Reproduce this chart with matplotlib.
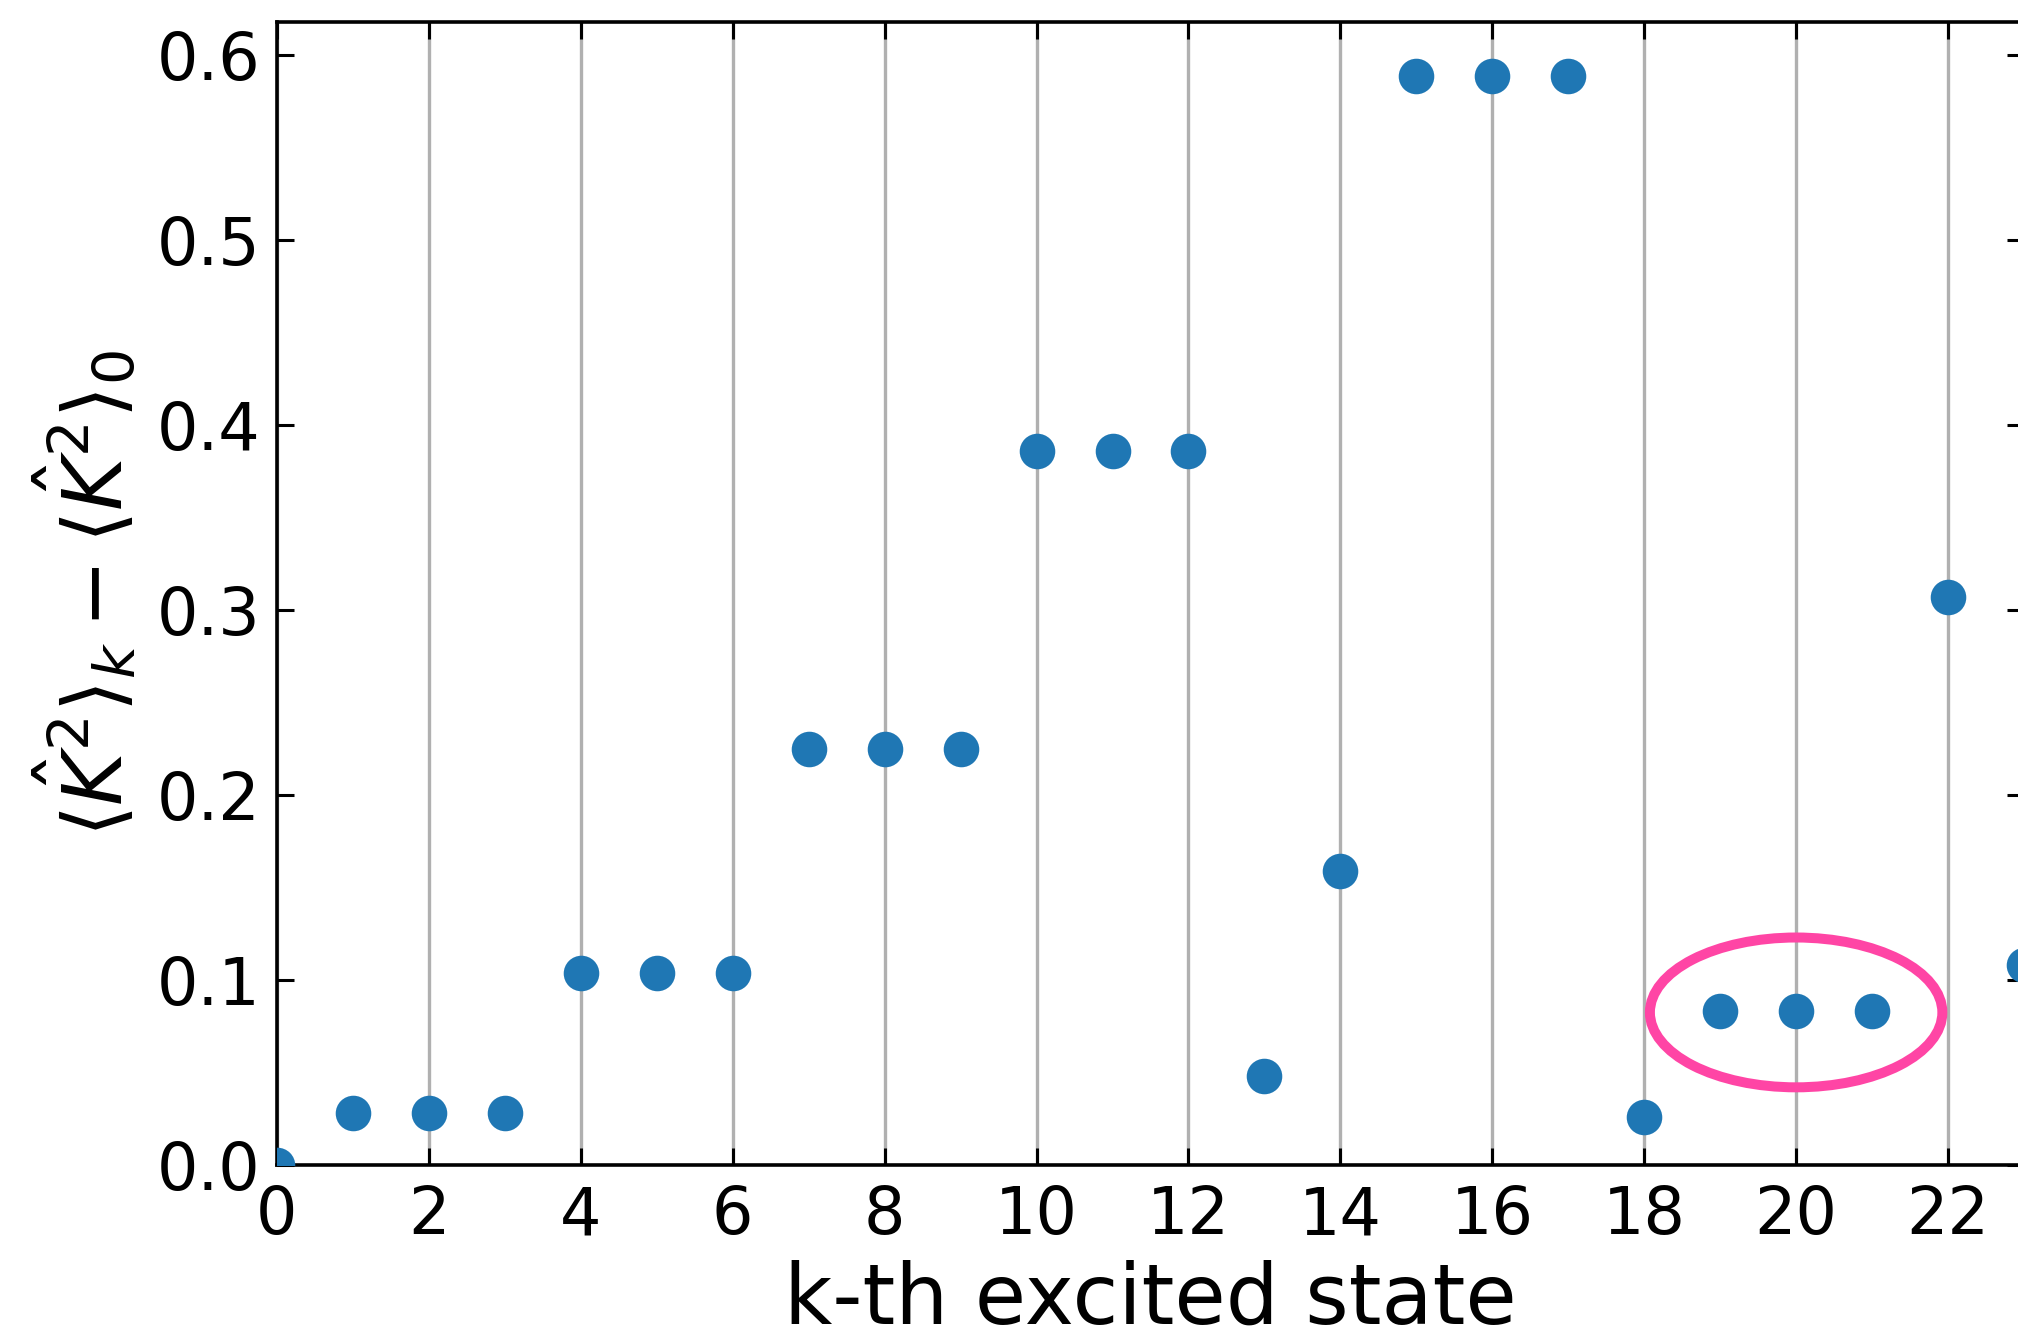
import matplotlib
matplotlib.use("Agg")
import matplotlib.pyplot as plt
from matplotlib.patches import Ellipse

# data
k_states = [0, 1, 2, 3, 4, 5, 6, 7, 8, 9, 10, 11, 12, 13, 14, 15, 16, 17, 18, 19, 20, 21, 22, 23]
k2_diff = [0.0, 0.028, 0.028, 0.028, 0.104, 0.104, 0.104, 0.225, 0.225, 0.225,
           0.386, 0.386, 0.386, 0.048, 0.159, 0.589, 0.589, 0.589, 0.026,
           0.083, 0.083, 0.083, 0.307, 0.108]
x_ticks = [0, 2, 4, 6, 8, 10, 12, 14, 16, 18, 20, 22]
y_ticks = [0.0, 0.1, 0.2, 0.3, 0.4, 0.5, 0.6]
highlight_center = (20, 0.0825)
highlight_size = (3.85, 0.081)

W, H, DPI = 2018, 1335, 200
fig = plt.figure(figsize=(W / DPI, H / DPI), dpi=DPI)
left, right, top, bottom = 277, 2024, 22, 1165
ax = fig.add_axes([left / W, (H - bottom) / H, (right - left) / W, (bottom - top) / H])

ax.plot(k_states, k2_diff, 'o', color='#1f77b4', markersize=11.8, zorder=3)

ell = Ellipse(highlight_center, highlight_size[0], highlight_size[1],
              fill=False, edgecolor='#ff45a5', linewidth=3.6, zorder=4)
ax.add_patch(ell)

ax.set_xlim(0, 23)
ax.set_ylim(0, 0.618)
ax.set_xticks(x_ticks)
ax.set_yticks(y_ticks)
ax.set_yticklabels([f"{v:.1f}" for v in y_ticks])
ax.grid(axis='x', color='#b0b0b0', linewidth=1.2, zorder=1)
ax.set_axisbelow(True)

ax.tick_params(direction='in', top=True, right=True, length=6, width=1.1, labelsize=23.5)
ax.tick_params(axis='y', pad=6)
ax.tick_params(axis='x', pad=7)
for sp in ax.spines.values():
    sp.set_linewidth(1.3)

ax.set_xlabel('k-th excited state', fontsize=30, labelpad=4)
ax.set_ylabel(r'$\langle \hat{K}^2 \rangle_k - \langle \hat{K}^2 \rangle_0$', fontsize=29.5, labelpad=6)

fig.savefig('out.png', dpi=DPI)
